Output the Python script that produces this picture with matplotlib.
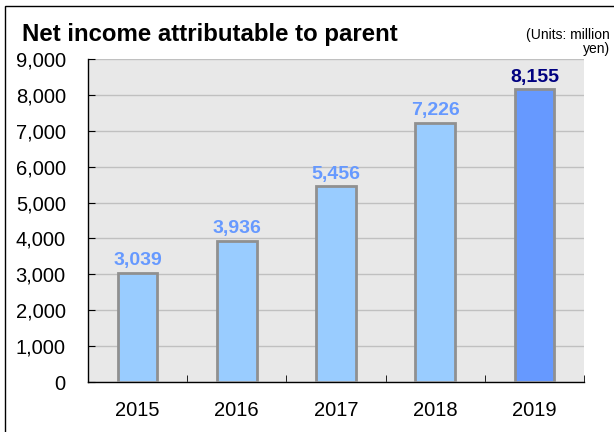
import matplotlib.pyplot as plt
from matplotlib.patches import Rectangle
from matplotlib.ticker import FuncFormatter, FixedLocator

plt.rcParams['font.family'] = ['Liberation Sans', 'DejaVu Sans']

# net income by fiscal year (million yen)
years = ['2015', '2016', '2017', '2018', '2019']
income = [3039, 3936, 5456, 7226, 8155]
bar_colors = ['#99ccff', '#99ccff', '#99ccff', '#99ccff', '#6699ff']
label_colors = ['#6699ff', '#6699ff', '#6699ff', '#6699ff', '#000080']

fig = plt.figure(figsize=(6.14, 4.32), dpi=100)
ax = fig.add_axes([0.1433, 0.1157, 0.8078, 0.7477])
ax.set_facecolor('#e8e8e8')

x = range(len(years))
ax.bar(x, income, width=0.4, color=bar_colors, edgecolor='#909090', linewidth=2, zorder=3)

for i, v in enumerate(income):
    ax.text(i, v + 100, f'{v:,}', ha='center', va='bottom', fontsize=14,
            fontweight='bold', color=label_colors[i], zorder=4)

ax.set_xlim(-0.5, len(years) - 0.5)
ax.set_ylim(0, 9000)
ax.set_yticks(range(0, 9001, 1000))
ax.yaxis.set_major_formatter(FuncFormatter(lambda v, p: f'{int(v):,}'))
ax.set_xticks(list(x))
ax.set_xticklabels(years)
ax.xaxis.set_minor_locator(FixedLocator([i + 0.5 for i in range(len(years))]))

ax.grid(axis='y', color='#c0c0c0', linewidth=1, zorder=0)
ax.tick_params(axis='y', direction='in', length=5, pad=16, labelsize=14.5)
ax.tick_params(axis='x', which='major', length=0, pad=14, labelsize=14.5)
ax.tick_params(axis='x', which='minor', direction='in', length=5)
for s in ['top', 'right']:
    ax.spines[s].set_visible(False)
for s in ['left', 'bottom']:
    ax.spines[s].set_color('black')
    ax.spines[s].set_linewidth(1)

fig.text(22 / 614, 1 - 35 / 432, 'Net income attributable to parent', fontsize=17.3,
         fontweight='bold', va='center', ha='left')
fig.text(610 / 614, 1 - 42 / 432, '(Units: million\nyen)', fontsize=10,
         ha='right', va='center', multialignment='right', linespacing=1.0)

# outer frame
fig.patches.append(Rectangle((5 / 614, -0.1), 1.2, 1 - 6 / 432 + 0.1,
                             transform=fig.transFigure, fill=False,
                             edgecolor='black', linewidth=1))

fig.savefig('out.png', dpi=100)
